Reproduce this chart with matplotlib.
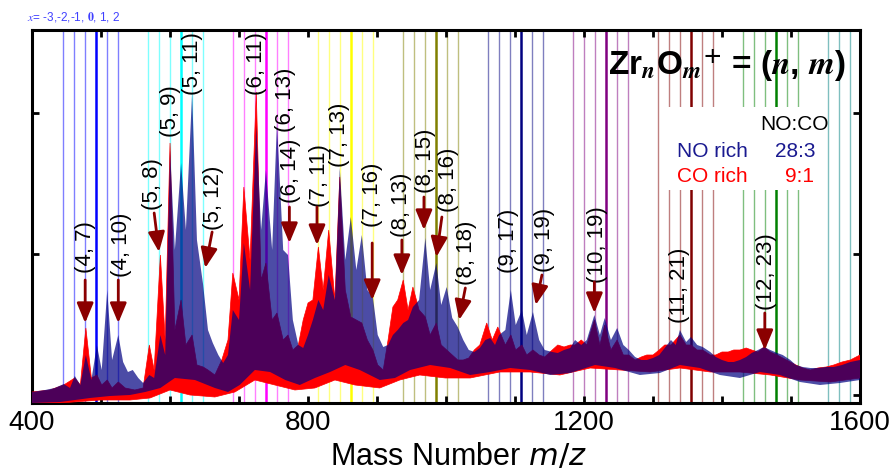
import numpy as np
import matplotlib.pyplot as plt
from matplotlib.patches import Rectangle

plt.rcParams['font.family'] = ['Liberation Sans', 'DejaVu Sans']

# NO rich trace (blue): upper and lower edge of the noisy band
no_hi_mass = [400, 419, 433, 446, 455, 462, 470, 478, 486, 494, 501, 509, 516, 525, 532, 539,
              546, 554, 561, 570, 577, 586, 593, 600, 607, 616, 623, 632, 639, 648, 655, 662,
              670, 677, 684, 691, 700, 707, 716, 725, 732, 739, 748, 755, 764, 771, 778, 786,
              793, 800, 807, 815, 822, 830, 839, 846, 854, 862, 870, 878, 886, 894, 901, 909,
              916, 923, 930, 938, 945, 952, 961, 970, 977, 986, 993, 1001, 1009, 1017, 1025,
              1033, 1041, 1049, 1057, 1064, 1071, 1077, 1086, 1094, 1101, 1110, 1117, 1126,
              1135, 1143, 1154, 1162, 1171, 1180, 1187, 1196, 1204, 1215, 1223, 1230, 1239,
              1248, 1257, 1265, 1274, 1283, 1291, 1300, 1309, 1317, 1326, 1333, 1339, 1348,
              1355, 1364, 1372, 1383, 1391, 1400, 1409, 1417, 1426, 1435, 1443, 1452, 1461,
              1470, 1480, 1488, 1499, 1507, 1517, 1528, 1539, 1551, 1562, 1574, 1586, 1600]
no_hi_int = [3, 5, 7, 11, 7, 19, 10, 40, 15, 50, 25, 105, 35, 60, 33, 23,
             25, 17, 12, 20, 17, 60, 40, 245, 145, 232, 165, 302, 155, 110, 65, 52,
             40, 32, 40, 85, 75, 152, 105, 270, 165, 225, 145, 273, 145, 140, 75, 50,
             47, 60, 75, 95, 85, 120, 95, 227, 135, 178, 125, 160, 105, 98, 60, 48,
             50, 60, 65, 72, 75, 88, 95, 157, 105, 132, 90, 108, 77, 68, 55,
             45, 43, 47, 55, 57, 50, 60, 65, 105, 70, 85, 60, 83,
             55, 45, 43, 42, 45, 47, 55, 50, 55, 80, 60, 77, 55,
             67, 50, 45, 38, 35, 35, 37, 40, 47, 55, 50, 65, 53,
             58, 50, 48, 43, 38, 35, 33, 33, 35, 38, 42, 45, 48,
             45, 42, 40, 35, 30, 28, 27, 27, 28, 28, 30, 33, 35]
no_lo_mass = [400, 441, 484, 513, 542, 564, 586, 607, 636, 665, 684, 701, 723, 745, 767, 788,
              810, 832, 854, 875, 904, 926, 948, 977, 1006, 1035, 1064, 1093, 1122, 1151,
              1180, 1216, 1245, 1281, 1310, 1339, 1368, 1397, 1426, 1455, 1484, 1513, 1542,
              1571, 1600]
no_lo_int = [-8, -7, -3, -1, 0, 3, 7, 17, 15, 7, 3, 10, 25, 23, 15, 10,
             17, 23, 30, 25, 15, 17, 25, 30, 27, 20, 23, 27, 25, 20,
             22, 30, 27, 20, 22, 30, 27, 20, 17, 23, 20, 13, 10,
             12, 15]

# CO rich trace (red)
co_hi_mass = [400, 426, 446, 462, 470, 478, 486, 494, 501, 509, 516, 525, 535, 549, 561, 570,
              577, 586, 593, 600, 607, 616, 623, 632, 639, 648, 655, 665, 675, 684, 691, 700,
              707, 716, 725, 732, 739, 748, 755, 764, 771, 778, 786, 793, 800, 807, 815, 822,
              830, 839, 846, 854, 862, 870, 878, 886, 894, 901, 909, 916, 923, 930, 938, 945,
              952, 961, 970, 977, 986, 993, 1001, 1009, 1017, 1025, 1033, 1041, 1049, 1059,
              1067, 1075, 1086, 1094, 1101, 1110, 1117, 1126, 1135, 1143, 1154, 1162, 1171,
              1180, 1187, 1196, 1204, 1215, 1223, 1230, 1239, 1248, 1257, 1265, 1274, 1283,
              1291, 1300, 1309, 1317, 1326, 1339, 1348, 1355, 1364, 1372, 1383, 1391, 1400,
              1409, 1417, 1426, 1435, 1443, 1452, 1461, 1470, 1480, 1488, 1499, 1507, 1517,
              1528, 1539, 1551, 1562, 1574, 1586, 1600]
co_hi_int = [3, 5, 10, 17, 10, 67, 17, 20, 10, 15, 7, 13, 7, 5, 7, 50,
             25, 140, 55, 252, 65, 95, 50, 60, 30, 28, 25, 20, 35, 55, 122, 95,
             208, 135, 303, 115, 132, 75, 82, 55, 60, 45, 50, 75, 92, 95, 148, 105,
             165, 95, 218, 105, 78, 75, 72, 55, 45, 30, 25, 55, 88, 95, 115, 85,
             108, 85, 78, 60, 72, 50, 45, 40, 35, 35, 37, 45, 50, 72,
             55, 68, 50, 60, 45, 50, 40, 45, 40, 38, 45, 50, 48,
             50, 50, 55, 50, 75, 50, 70, 45, 55, 40, 40, 35, 38,
             40, 40, 45, 50, 50, 60, 50, 50, 45, 45, 40, 40, 43,
             43, 45, 45, 47, 45, 43, 48, 43, 40, 37, 33, 30, 27,
             25, 27, 28, 30, 33, 35, 40]
co_lo_mass = [400, 441, 499, 542, 571, 600, 629, 665, 694, 723, 752, 781, 810, 839, 868, 904,
              933, 962, 999, 1035, 1078, 1122, 1165, 1209, 1252, 1296, 1339, 1383, 1426,
              1470, 1513, 1557, 1600]
co_lo_int = [-8, -8, -5, -5, -3, 5, 0, -2, 3, 15, 10, 5, 7, 15, 10, 7,
             15, 20, 17, 17, 23, 23, 20, 27, 25, 23, 27, 23, 23,
             20, 15, 13, 17]

# Zr_nO_m+ reference lines, m = 2n-3 ... 2n+2 (index 3 is x = 0)
cluster_n = [4, 5, 6, 7, 8, 9, 10, 11, 12, 13]
cluster_mass = [
    [444.9, 460.9, 476.9, 492.9, 508.9, 524.9],
    [568.1, 584.1, 600.1, 616.1, 632.1, 648.1],
    [691.3, 707.3, 723.3, 739.3, 755.3, 771.3],
    [814.5, 830.5, 846.5, 862.5, 878.5, 894.5],
    [937.8, 953.8, 969.8, 985.8, 1001.8, 1017.8],
    [1061.0, 1077.0, 1093.0, 1109.0, 1125.0, 1141.0],
    [1184.2, 1200.2, 1216.2, 1232.2, 1248.2, 1264.2],
    [1307.4, 1323.4, 1339.4, 1355.4, 1371.4, 1387.4],
    [1430.6, 1446.6, 1462.6, 1478.6, 1494.6, 1510.6],
    [1553.9, 1569.9, 1585.9, 1601.9, 1617.9, 1633.9],
]
cluster_color = ['#0000ff', '#00ffff', '#ff00ff', '#ffff00', '#808000',
                 '#000080', '#800080', '#800000', '#008000', '#008080']

# peak labels: text, x, bottom of text
peak_text = ['(4, 7)', '(4, 10)', '(5, 8)', '(5, 9)', '(5, 11)', '(5, 12)', '(6, 11)',
             '(6, 13)', '(6, 14)', '(7, 11)', '(7, 13)', '(7, 16)', '(8, 13)', '(8, 15)',
             '(8, 16)', '(8, 18)', '(9, 17)', '(9, 19)', '(10, 19)', '(11, 21)', '(12, 23)']
peak_x = [478, 529, 575, 601, 633, 663, 726, 767, 775, 816, 845, 893, 936, 970,
          1003, 1029, 1090, 1143, 1220, 1338, 1464]
peak_y = [122, 118, 185, 258, 300, 165, 300, 263, 192, 188, 228, 168, 158, 202,
          183, 110, 122, 123, 112, 72, 85]

# arrows: start (x, y) -> tip (x, y)
arrow_x0 = [477, 525, 577, 661, 773, 813, 893, 936, 968, 994, 1028, 1139, 1215, 1462]
arrow_y0 = [115, 115, 182, 163, 188, 188, 152, 155, 198, 178, 107, 120, 113, 82]
arrow_x1 = [477, 525, 584, 651, 773, 813, 893, 936, 968, 986, 1019, 1130, 1215, 1462]
arrow_y1 = [72, 72, 143, 127, 152, 150, 95, 120, 165, 138, 75, 90, 82, 45]

fig = plt.figure(figsize=(8.95, 4.74), dpi=100)
ax = fig.add_axes([0.0358, 0.1498, 0.9251, 0.7869])

for n, masses, col in zip(cluster_n, cluster_mass, cluster_color):
    for k, m in enumerate(masses):
        if k == 3:
            ax.axvline(m, color=col, lw=1.8, zorder=1)
        else:
            ax.axvline(m, color=col, lw=1.0, alpha=0.5, zorder=1)

# white panel behind the NO:CO legend
ax.add_patch(Rectangle((1312, 205), 236, 83, facecolor='white', edgecolor='none', zorder=2))

ax.fill(np.r_[co_hi_mass, co_lo_mass[::-1]], np.r_[co_hi_int, co_lo_int[::-1]],
        color='#ff0000', lw=0.5, zorder=3)
ax.fill(np.r_[no_hi_mass, no_lo_mass[::-1]], np.r_[no_hi_int, no_lo_int[::-1]],
        facecolor='#000080', edgecolor='none', alpha=0.7, zorder=4)

for t, x, y in zip(peak_text, peak_x, peak_y):
    ax.text(x, y, t, rotation=90, ha='center', va='bottom', fontsize=16, zorder=6)

for x0, y0, x1, y1 in zip(arrow_x0, arrow_y0, arrow_x1, arrow_y1):
    ax.annotate('', xy=(x1, y1), xytext=(x0, y0),
                arrowprops=dict(arrowstyle='-|>,head_length=0.6,head_width=0.25',
                                color='#8b0000', lw=2, mutation_scale=20,
                                shrinkA=0, shrinkB=0), zorder=6)

ax.text(1235, 320, r'Zr$_{\mathbfit{n}}$O$_{\mathbfit{m}}$$^{\mathbf{+}}$ = ($\mathbfit{n}$, $\mathbfit{m}$)',
        fontsize=24, fontweight='bold', math_fontfamily='stix', ha='left', va='baseline', zorder=7)
ax.text(1554, 265, 'NO:CO', fontsize=15, ha='right', va='baseline', zorder=7)
ax.text(1335, 238, 'NO rich', fontsize=15, color='#1a1a90', ha='left', va='baseline', zorder=7)
ax.text(1535, 238, '28:3', fontsize=15, color='#1a1a90', ha='right', va='baseline', zorder=7)
ax.text(1335, 213, 'CO rich', fontsize=15, color='#ff0000', ha='left', va='baseline', zorder=7)
ax.text(1534, 213, '9:1', fontsize=15, color='#ff0000', ha='right', va='baseline', zorder=7)

fig.text(0.030, 0.956, r'$x$= -3,-2,-1, $\mathbf{0}$, 1, 2', fontsize=8.5, color='#4040ff',
         math_fontfamily='stix')

ax.set_xlim(400, 1600)
ax.set_ylim(-8, 365)
ax.set_xticks(np.arange(400, 1601, 100))
ax.set_xticklabels([str(v) if v % 400 == 0 else '' for v in range(400, 1601, 100)])
ax.set_yticks([0, 141, 282])
ax.set_yticklabels([])
ax.tick_params(direction='in', length=5, width=2, top=True, right=True, labelsize=20, pad=5)
for s in ax.spines.values():
    s.set_linewidth(2.2)
ax.set_xlabel('Mass Number $m/z$', fontsize=22, labelpad=2)
ax.xaxis.set_label_coords(0.515, -0.105)

fig.savefig('out.png', dpi=100)
